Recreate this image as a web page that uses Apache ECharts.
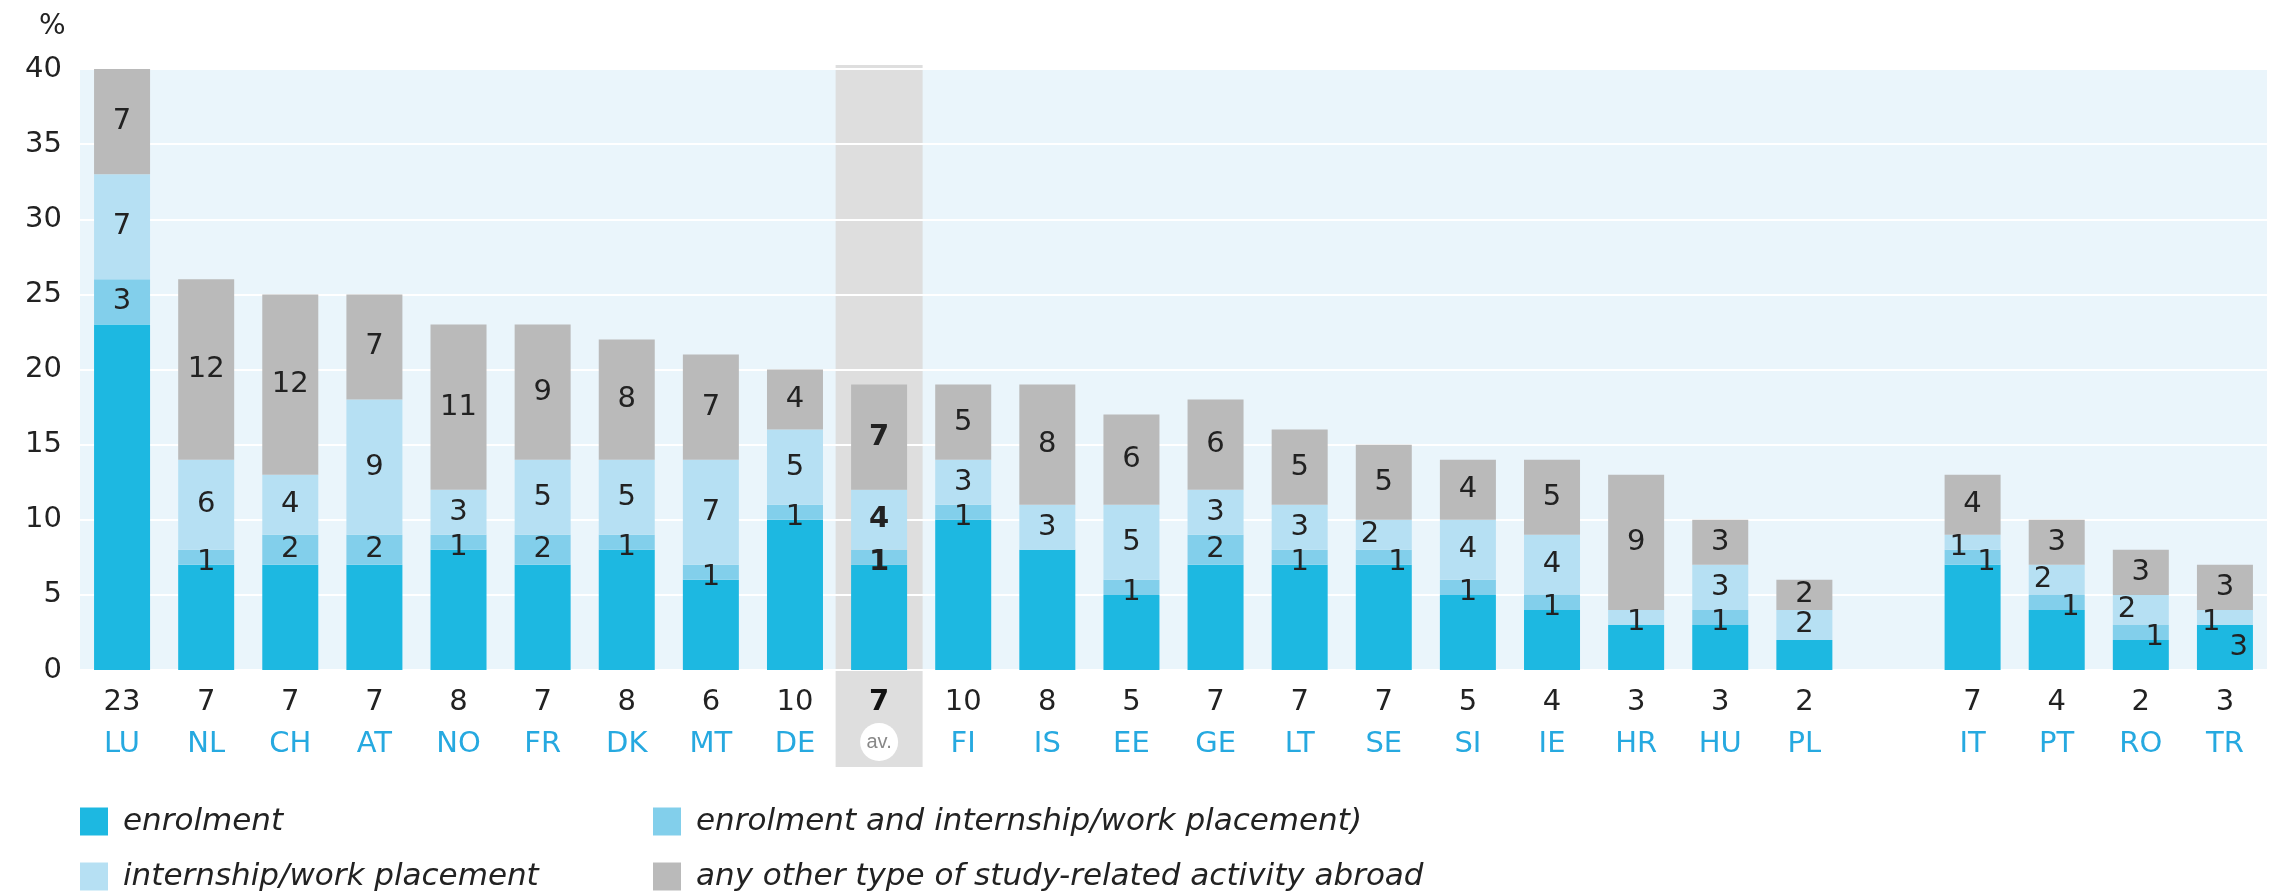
<!DOCTYPE html>
<html>
<head>
<meta charset="utf-8">
<script src="https://cdn.jsdelivr.net/npm/echarts@6/dist/echarts.min.js"></script>
<style>html,body{margin:0;padding:0;background:#fff;}#c{width:2272px;height:892px;}</style>
</head>
<body>
<div id="c"></div>
<script>
const categories = ['LU','NL','CH','AT','NO','FR','DK','MT','DE','av.','FI','IS','EE','GE','LT','SE','SI','IE','HR','HU','PL','','IT','PT','RO','TR'];
const enrolment = [23,7,7,7,8,7,8,6,10,7,10,8,5,7,7,7,5,4,3,3,2,null,7,4,2,3];
const enrolmentAndInternship = [3,1,2,2,1,2,1,1,1,1,1,0,1,2,1,1,1,1,0,1,0,null,1,1,1,0];
const internship = [7,6,4,9,3,5,5,7,5,4,3,3,5,3,3,2,4,4,1,3,2,null,1,2,2,1];
const otherActivity = [7,12,12,7,11,9,8,7,4,7,5,8,6,6,5,5,4,5,9,3,2,null,4,3,3,3];
const yTicks = {min: 0, max: 40, interval: 5};
const highlightCategory = 'av.';

const seriesNames = {
  enrolment: 'enrolment',
  both: 'enrolment and internship/work placement)',
  internship: 'internship/work placement',
  other: 'any other type of study-related activity abroad'
};
const colors = {enrolment:'#1db8e1', both:'#82cfeb', internship:'#b6e0f3', other:'#bababa'};
// label placement overrides (style only)
const labelPlacement = {
  SE: {internship:'insideLeft', both:'insideRight'},
  IT: {internship:'insideLeft', both:'insideRight'},
  PT: {internship:'insideLeft', both:'insideRight'},
  RO: {internship:'insideLeft', both:'insideRight'},
  TR: {internship:'insideLeft', enrolment:'insideRight'}
};
const numFont = 'DejaVu Sans';

function items(values, key, showDefault) {
  return values.map((v, i) => {
    if (v == null) return null;
    const c = categories[i];
    const place = labelPlacement[c] && labelPlacement[c][key];
    const show = v > 0 && (showDefault || !!place);
    return {
      value: v,
      label: {
        show: show,
        position: place || 'inside',
        offset: [0, v === 1 ? 5 : 0],
        fontWeight: c === highlightCategory ? 'bold' : 'normal'
      }
    };
  });
}

const labelStyle = {color:'#222', fontFamily:numFont, fontSize:29, formatter: p => p.value};

function barSeries(key, values, showDefault) {
  return {
    name: seriesNames[key], type:'bar', stack:'total', barWidth:56, z:3,
    xAxisIndex:0, yAxisIndex:0,
    itemStyle:{color:colors[key]},
    label: Object.assign({}, labelStyle),
    emphasis:{disabled:true},
    data: items(values, key, showDefault)
  };
}

const legendText = {fontFamily:'DejaVu Sans', fontStyle:'italic', fontSize:31, lineHeight:28, color:'#222', padding:[0,0,0,10]};
function legendAt(name, left, top) {
  return {left:left, top:top, orient:'horizontal', padding:0, itemWidth:28, itemHeight:28, icon:'rect',
    selectedMode:false, data:[name], textStyle:legendText};
}

const chart = echarts.init(document.getElementById('c'), null, {renderer:'canvas'});
chart.setOption({
  animation:false,
  title:{text:'%', left:34, top:8, textStyle:{fontFamily:numFont, fontSize:28, fontWeight:'normal', color:'#222'}},
  grid:[
    {left:80, right:5, top:69, bottom:222, show:true, backgroundColor:'#eaf5fb', borderWidth:0, z:0},
    {left:80, right:5, top:65, bottom:125, show:false}
  ],
  xAxis:[
    {type:'category', gridIndex:0, data:categories, z:4,
     axisLine:{show:false}, axisTick:{show:false}, splitLine:{show:false},
     axisLabel:{interval:0, margin:11,
       formatter:(val, idx) => {
         if (!val) return '';
         if (val === highlightCategory) return '{numB|' + enrolment[idx] + '}\n{av|av.}';
         return '{num|' + enrolment[idx] + '}\n{code|' + val + '}';
       },
       rich:{
         num:{fontFamily:numFont, fontSize:29, color:'#222', lineHeight:42},
         numB:{fontFamily:numFont, fontSize:29, color:'#111', fontWeight:'bold', lineHeight:42},
         code:{fontFamily:'DejaVu Sans', fontSize:29, color:'#26a9e0', lineHeight:42},
         av:{fontFamily:'Liberation Sans', fontSize:20, color:'#888', backgroundColor:'#fff', borderRadius:19, width:38, height:38, lineHeight:38, align:'center'}
       }}
    },
    {type:'category', gridIndex:1, data:categories, show:false}
  ],
  yAxis:[
    {type:'value', gridIndex:0, min:yTicks.min, max:yTicks.max, interval:yTicks.interval, z:2,
     axisLine:{show:false}, axisTick:{show:false},
     axisLabel:{margin:18, fontFamily:numFont, fontSize:29, color:'#222', padding:[5,0,0,0]},
     splitLine:{show:true, lineStyle:{color:'#ffffff', width:2}}},
    {type:'value', gridIndex:1, min:0, max:1, show:false}
  ],
  legend:[
    legendAt(seriesNames.enrolment, 80, 806),
    legendAt(seriesNames.internship, 80, 861),
    legendAt(seriesNames.both, 653, 806),
    legendAt(seriesNames.other, 653, 861)
  ],
  series:[
    {name:'highlight', type:'bar', xAxisIndex:1, yAxisIndex:1, barWidth:87, z:1, silent:true,
     itemStyle:{color:'#dedede'},
     data: categories.map(c => c === highlightCategory ? 1 : null)},
    barSeries('enrolment', enrolment, false),
    barSeries('both', enrolmentAndInternship, true),
    barSeries('internship', internship, true),
    barSeries('other', otherActivity, true)
  ]
});
</script>
</body>
</html>
